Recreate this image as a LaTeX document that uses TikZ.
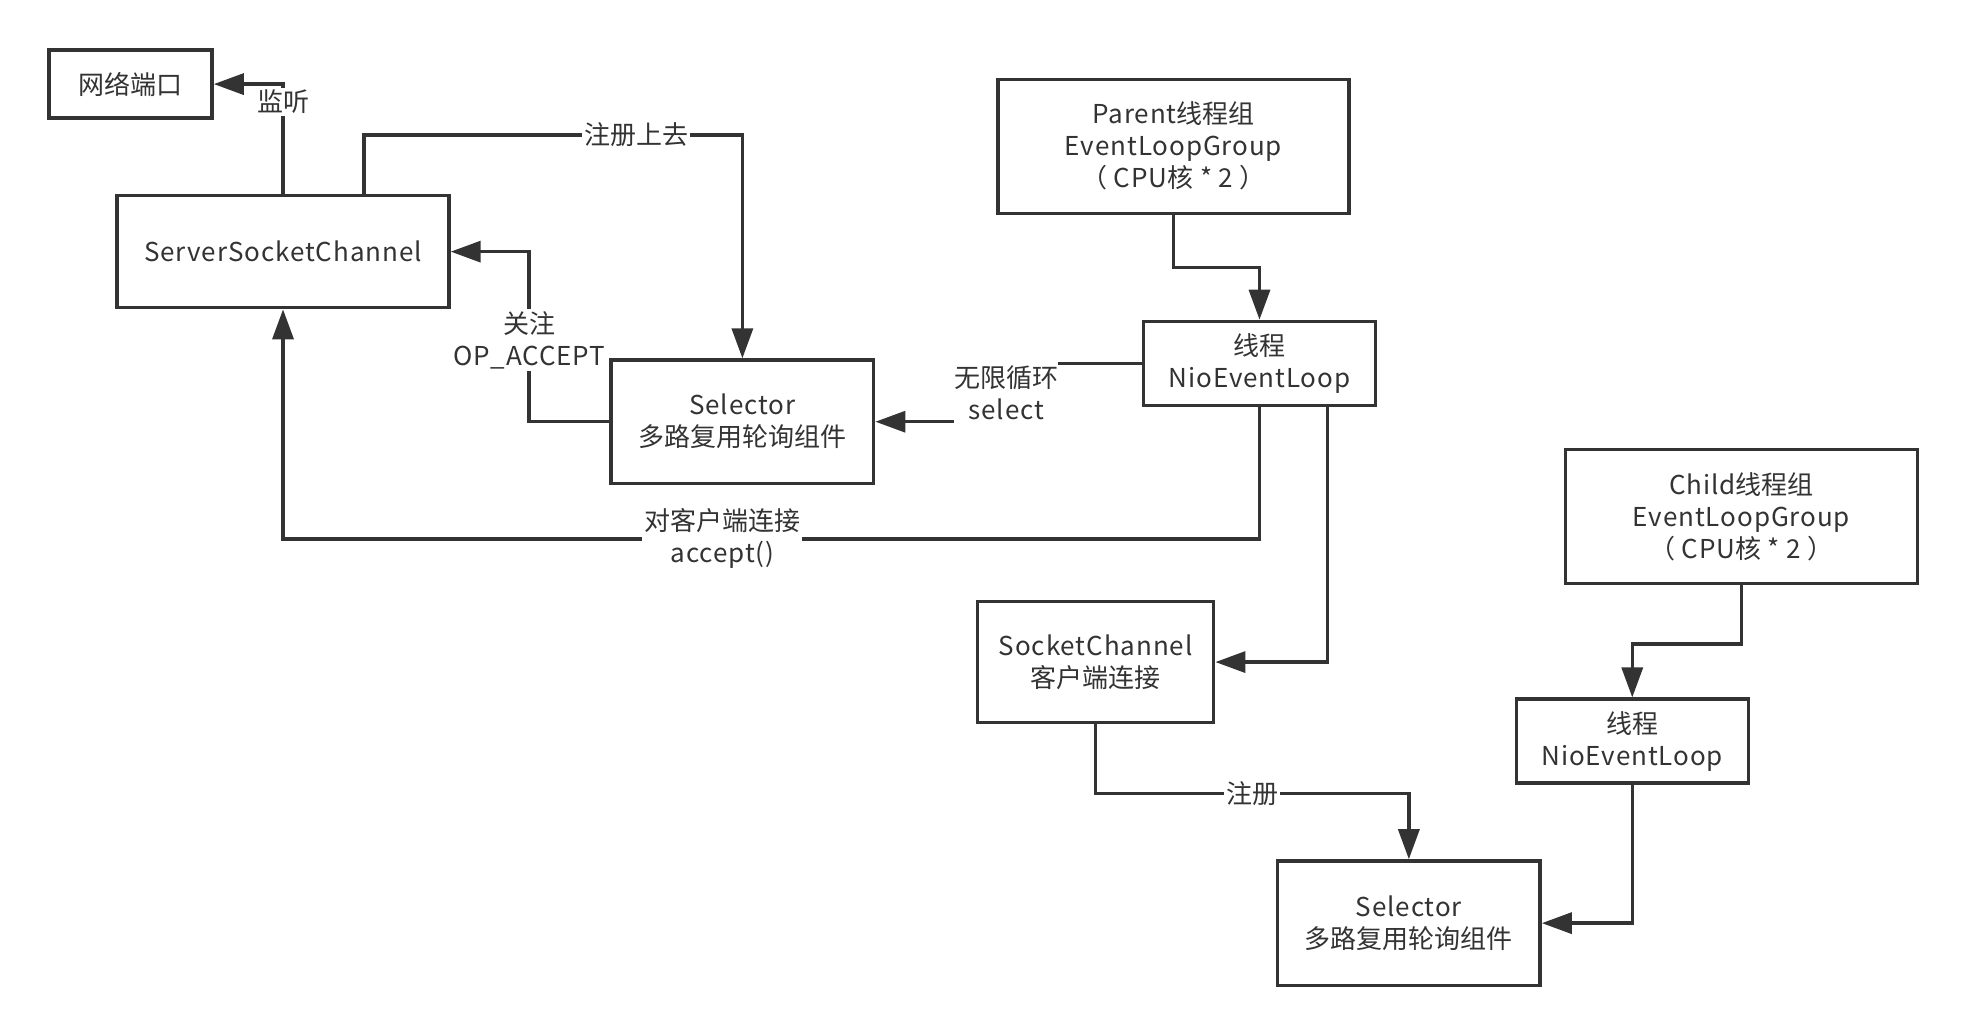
\documentclass[tikz,border=0pt]{standalone}
\usepackage{fontspec}
\setmainfont{Noto Sans CJK SC}[LetterSpace=3.5]
\newfontfamily\zhfont{Noto Sans CJK SC}
\newcommand\zh[1]{{\zhfont #1}}
\usetikzlibrary{arrows.meta}
\definecolor{ink}{HTML}{333333}

\begin{document}
\begin{tikzpicture}[x=0.6276pt, y=-0.6276pt,
    box/.style={draw=ink, line width=1.7pt, text=ink, align=center, inner sep=0pt,
        font=\fontsize{13pt}{16pt}\selectfont},
    flow/.style={draw=ink, line width=1.7pt, -{Triangle[length=15pt,width=10.5pt]}},
    lbl/.style={fill=white, text=ink, align=center, inner sep=1pt,
        font=\fontsize{13pt}{16pt}\selectfont}]

    % Fix the page size
    \useasboundingbox (0,0) rectangle (1568,825);

    % Boss side boxes
    \node[box, minimum width=81.6pt, minimum height=34pt] (port) at (104,67) {\zh{网络端口}};
    \node[box, minimum width=166pt, minimum height=56pt] (ssc) at (225.5,200.5) {ServerSocketChannel};
    \node[box, minimum width=131.3pt, minimum height=61.7pt] (sel1) at (591.5,336) {Selector\\\zh{多路复用轮询组件}};
    \node[box, minimum width=175.6pt, minimum height=67pt] (parent) at (935,116.5) {Parent\zh{线程组}\\EventLoopGroup\\\zh{（ }CPU\zh{核} * 2\zh{ ）}};
    \node[box, minimum width=116pt, minimum height=42pt] (th1) at (1003.5,289.5) {\zh{线程}\\NioEventLoop};

    % Worker side boxes
    \node[box, minimum width=118pt, minimum height=60.7pt] (sc) at (873,527.5) {SocketChannel\\\zh{客户端连接}};
    \node[box, minimum width=131.3pt, minimum height=62.2pt] (sel2) at (1122.5,735.5) {Selector\\\zh{多路复用轮询组件}};
    \node[box, minimum width=176pt, minimum height=67pt] (child) at (1387.5,411.5) {Child\zh{线程组}\\EventLoopGroup\\\zh{（ }CPU\zh{核} * 2\zh{ ）}};
    \node[box, minimum width=116pt, minimum height=42pt] (th2) at (1300.5,590.5) {\zh{线程}\\NioEventLoop};

    % Connectors with labels
    \draw[flow] (ssc.north) |- (port.east) node[lbl, pos=0.42] (lListen) {\zh{监听}};
    \draw[flow] ([xshift=40.4pt]ssc.north) -- ++(0,-47) -| (sel1.north) node[lbl, pos=0.36] (lReg) {\zh{注册上去}};
    \draw[flow] (sel1.west) -- ++(-64,0) |- (ssc.east) node[lbl, pos=0.24] (lAccept) {\zh{关注}\\OP\_ACCEPT};
    \draw[flow] (th1.west) -- ++(-108,0) |- (sel1.east) node[lbl, pos=0.25, inner xsep=0pt, inner ysep=3pt] (lSelect) {\zh{无限循环}\\select};
    \draw[flow] (th1.south) -- ++(0,105) -| (ssc.south) node[lbl, pos=0.275] (lConn) {\zh{对客户端连接}\\accept()};
    \draw[flow] (sc.south) -- ++(0,55) -| (sel2.north) node[lbl, pos=0.25] (lReg2) {\zh{注册}};

    % Plain connectors
    \draw[flow] ([xshift=34.1pt]th1.south) |- (sc.east);
    \draw[flow] (parent.south) -- ++(0,42) -| (th1.north);
    \draw[flow] (child.south) -- ++(0,47) -| (th2.north);
    \draw[flow] (th2.south) |- (sel2.east);

\end{tikzpicture}
\end{document}
